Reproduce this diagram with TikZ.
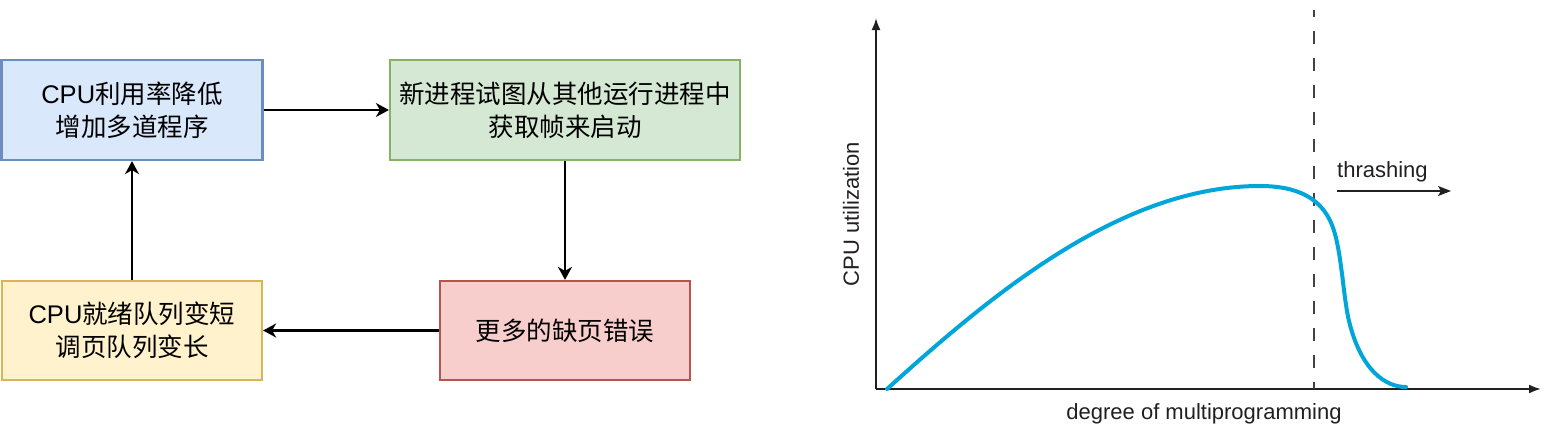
\documentclass[tikz,border=0pt]{standalone}
\usepackage{fontspec}
\setmainfont{Liberation Sans}
\newfontfamily\cjk{Noto Sans CJK SC}
\newfontfamily\lat{Liberation Sans}
\usetikzlibrary{arrows.meta}
\definecolor{bfill}{HTML}{DAE8FC}\definecolor{bdraw}{HTML}{6C8EBF}
\definecolor{gfill}{HTML}{D5E8D4}\definecolor{gdraw}{HTML}{82B366}
\definecolor{rfill}{HTML}{F8CECC}\definecolor{rdraw}{HTML}{B85450}
\definecolor{yfill}{HTML}{FFF2CC}\definecolor{ydraw}{HTML}{D6B656}
\definecolor{ink}{HTML}{231F20}
\definecolor{curve}{HTML}{00A6DA}
\begin{document}
\begin{tikzpicture}[x=1pt,y=-1pt,
  box/.style={draw, line width=2.2pt, inner sep=0pt, align=center,
    font=\cjk\fontsize{25.5}{33}\selectfont},
  conn/.style={line width=2.5pt, -{Stealth[length=13pt,width=14pt,inset=4pt]}},
  axis/.style={ink, line width=2pt, -{Latex[length=12pt,width=9pt]}},
  lbl/.style={ink, font=\lat\fontsize{22}{26}\selectfont, inner sep=0pt}]
\useasboundingbox (0,0) rectangle (1566,439);
% flow chart
\node[box, fill=bfill, draw=bdraw, minimum width=261pt, minimum height=100pt] (b) at (132,110) {{\lat CPU}利用率降低\\增加多道程序};
\node[box, fill=gfill, draw=gdraw, minimum width=350pt, minimum height=100pt] (g) at (565,110) {新进程试图从其他运行进程中\\获取帧来启动};
\node[box, fill=rfill, draw=rdraw, minimum width=250pt, minimum height=99pt] (r) at (565,330.5) {更多的缺页错误};
\node[box, fill=yfill, draw=ydraw, minimum width=260pt, minimum height=99pt] (y) at (132,330.5) {{\lat CPU}就绪队列变短\\调页队列变长};
\draw[conn] (b) -- (g);
\draw[conn] (g) -- (r);
\draw[conn] (r) -- (y);
\draw[conn] (y) -- (b);
% chart
\coordinate (o) at (876,389);
\coordinate (ytop) at (876,18);
\coordinate (xend) at (1541,389);
\draw[axis] (o) -- (ytop);
\draw[axis] (o) -- (xend);
\coordinate (d1) at (1314,10);
\coordinate (d2) at (1314,389);
\draw[ink!85, line width=1.1pt, dash pattern=on 13pt off 14pt, dash phase=6pt] (d1) -- (d2);
\draw[curve, line width=4pt, line cap=round]
  (887,389) .. controls (990,296) and (1120,186) .. (1260,186)
  .. controls (1300,186) and (1322,200) .. (1332,225)
  .. controls (1342,250) and (1343,300) .. (1350,325)
  .. controls (1362,370) and (1385,387) .. (1406,387);
\node[lbl, anchor=base west] (th) at (1337,177) {thrashing};
\coordinate (ta) at (1337,191);
\coordinate (tb) at (1451,191);
\draw[ink, line width=1.5pt, -{Stealth[length=13pt,width=10pt,inset=3pt]}] (ta) -- (tb);
\node[lbl] (xl) at (1204,414) {degree of multiprogramming};
\node[lbl, rotate=90] (yl) at (851,214) {CPU utilization};
\end{tikzpicture}
\end{document}
